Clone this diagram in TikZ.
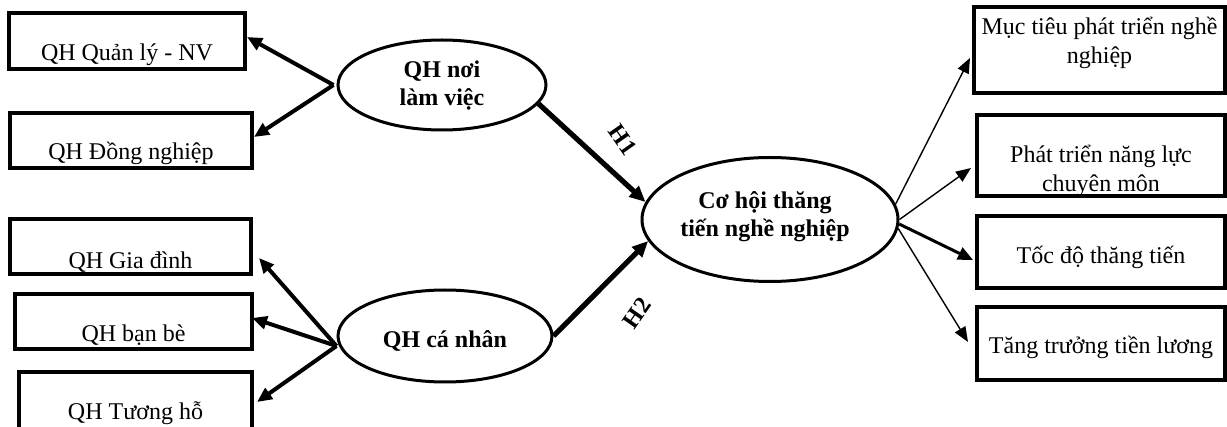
\documentclass[tikz,border=0pt]{standalone}
\usepackage{fontspec}
\setmainfont{Liberation Serif}
\usetikzlibrary{arrows.meta,calc,shapes.geometric}
\begin{document}
\begin{tikzpicture}[x=0.5pt,y=-0.5pt,
  font=\fontsize{12}{14.5}\selectfont,
  box/.style={draw,line width=2pt,rectangle,inner sep=0pt},
  ell/.style={draw,line width=1.5pt,ellipse,inner sep=0pt},
  arr/.style={line width=2pt,-{Triangle[length=7.5pt,width=6.5pt]}},
  harr/.style={line width=2.6pt,-{Triangle[length=8pt,width=7pt]}},
  thin arr/.style={line width=0.7pt,-{Triangle[length=7.5pt,width=6pt]}},
  mid arr/.style={line width=1.5pt,-{Triangle[length=7.5pt,width=6.5pt]}},
  lbl/.style={align=center},
  elbl/.style={align=center,font=\fontsize{12}{14}\selectfont\bfseries}
]
\useasboundingbox (0,0) rectangle (1227,427);
% left boxes
\node[box,minimum width=118pt,minimum height=28pt,label={[lbl,yshift=-7pt]center:QH Quản lý - NV}] (b1) at (127,41) {};
\node[box,minimum width=121pt,minimum height=27.5pt,label={[lbl,yshift=-6.25pt]center:QH Đồng nghiệp}] (b2) at (131,140.5) {};
\node[box,minimum width=120.5pt,minimum height=27.5pt,label={[lbl,yshift=-7.75pt]center:QH Gia đình}] (b3) at (130.5,246.5) {};
\node[box,minimum width=118.5pt,minimum height=27.5pt,label={[lbl,yshift=-6.75pt]center:QH bạn bè}] (b4) at (133.5,321.5) {};
\node[box,minimum width=116.5pt,minimum height=30pt,label={[lbl,yshift=-5.5pt]center:QH Tương hỗ}] (b5) at (135.5,402) {};
% ellipses
\node[ell,minimum width=104pt,minimum height=45pt,label={[elbl,yshift=-0.5pt]center:QH nơi\\làm việc}] (e1) at (442,85) {};
\node[ell,minimum width=107pt,minimum height=46pt,label={[elbl,yshift=-2.5pt]center:QH cá nhân}] (e2) at (445,336) {};
\node[ell,minimum width=128pt,minimum height=62pt,label={[elbl,xshift=-2.5pt,yshift=1.25pt]center:Cơ hội thăng\\tiến nghề nghiệp}] (e3) at (770,219.5) {};
% right boxes
\node[box,minimum width=125.5pt,minimum height=43pt,label={[lbl,yshift=3.75pt]center:Mục tiêu phát triển nghề\\nghiệp}] (r1) at (1099.5,50) {};
\node[box,minimum width=124pt,minimum height=40.5pt,label={[lbl,yshift=-7.75pt]center:Phát triển năng lực\\chuyên môn}] (r2) at (1101,155.5) {};
\node[box,minimum width=124pt,minimum height=36pt,label={[lbl,yshift=-2.5pt]center:Tốc độ thăng tiến}] (r3) at (1101,252) {};
\node[box,minimum width=124pt,minimum height=36.5pt,label={[lbl,yshift=-1.75pt]center:Tăng trưởng tiền lương}] (r4) at (1101,343.5) {};
% arrows left
\draw[arr] ($(e1.west)+(-3,0)$) -- ($(b1.east)+(0,-4)$);
\draw[arr] ($(e1.west)+(-3,0)$) -- ($(b2.east)+(0,-3.5)$);
\draw[arr] ($(e2.west)+(0,10)$) -- ($(b3.east)+(6,11.5)$);
\draw[arr] ($(e2.west)+(0,10)$) -- ($(b4.east)+(-2,-3.5)$);
\draw[arr] ($(e2.west)+(0,10)$) -- ($(b5.east)+(3,0)$);
% hypotheses
\draw[harr] (e1.-11) -- (e3.172);
\draw[harr] (e2.east) -- (e3.190);
\node[font=\fontsize{12}{14}\selectfont\bfseries,rotate=-55] (h1) at (623,140) {H1};
\node[font=\fontsize{12}{14}\selectfont\bfseries,rotate=55] (h2) at (637,313) {H2};
% arrows right
\draw[thin arr] (e3.7) -- ($(r1.west)+(-2,8)$);
\draw[thin arr] (e3.east) -- ($(r2.west)+(-4,12.5)$);
\draw[mid arr] (e3.-2) -- ($(r3.west)+(-2,8)$);
\draw[thin arr] (e3.-4) -- ($(r4.west)+(-7,-1.5)$);
\end{tikzpicture}
\end{document}
